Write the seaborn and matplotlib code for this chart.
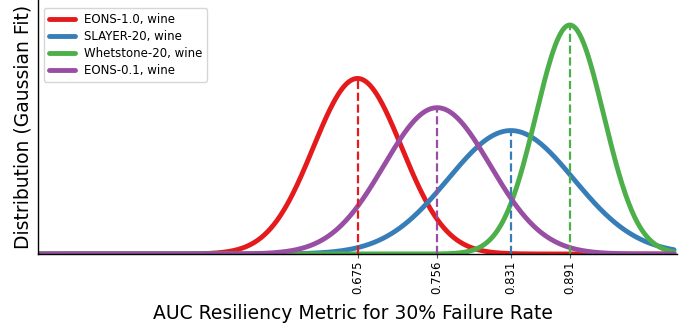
import numpy as np
import pandas as pd
import matplotlib
matplotlib.use("Agg")
import matplotlib.pyplot as plt
import seaborn as sns

labels = ["EONS-1.0, wine", "SLAYER-20, wine", "Whetstone-20, wine", "EONS-0.1, wine"]
means = [0.675, 0.831, 0.891, 0.756]
stds = [0.045, 0.064, 0.0345, 0.054]
colors = ["#e41a1c", "#377eb8", "#4daf4a", "#984ea3"]
x_min, x_max = 0.35, 0.997

sns.set_theme(style="white")
plt.rcParams['font.family'] = ['DejaVu Sans']
plt.rcParams['text.color'] = 'black'
plt.rcParams['axes.labelcolor'] = 'black'
plt.rcParams['xtick.color'] = 'black'

x = np.linspace(x_min, x_max, 600)
rows = []
for lab, m, s in zip(labels, means, stds):
    y = np.exp(-0.5 * ((x - m) / s) ** 2) / (s * np.sqrt(2 * np.pi))
    rows.append(pd.DataFrame({"x": x, "y": y, "model": lab}))
df = pd.concat(rows, ignore_index=True)

fig = plt.figure(figsize=(6.88, 3.25), dpi=100)
ax = fig.add_axes([38 / 688, (325 - 254) / 325, (677 - 38) / 688, 254 / 325])
sns.lineplot(data=df, x="x", y="y", hue="model", hue_order=labels,
             palette=colors, linewidth=3.5, ax=ax, legend=True)

for m, s, c in zip(means, stds, colors):
    peak = 1 / (s * np.sqrt(2 * np.pi))
    ax.plot([m, m], [0, peak], linestyle="--", color=c, linewidth=1.6)

peak_max = max(1 / (s * np.sqrt(2 * np.pi)) for s in stds)
ax.set_ylim(0, peak_max * 254 / 229)
ax.set_xlim(0.35, 1.0)
ax.set_yticks([])
ticks = sorted(means)
ax.set_xticks(ticks)
ax.set_xticklabels([f"{t:.3f}" for t in ticks], rotation=90, fontsize=8.5)
ax.tick_params(axis="x", bottom=True, length=3, width=0.8, color="#555555", pad=2)
for sp in ["top", "right"]:
    ax.spines[sp].set_visible(False)
for sp in ["left", "bottom"]:
    ax.spines[sp].set_color("black")
    ax.spines[sp].set_linewidth(1.0)

ax.set_xlabel("AUC Resiliency Metric for 30% Failure Rate", fontsize=13.5)
ax.xaxis.set_label_coords((352.5 - 38) / (677 - 38), -50 / 254)
ax.xaxis.label.set_va("top")
ax.set_ylabel("Distribution (Gaussian Fit)", fontsize=13.5)
leg = ax.legend(loc="upper left", fontsize=8.5, frameon=True, handlelength=2.2,
                labelspacing=0.35, bbox_to_anchor=(0.0, 0.992))
for h in leg.get_lines():
    h.set_linewidth(3.5)

fig.savefig("out.png", dpi=100)
